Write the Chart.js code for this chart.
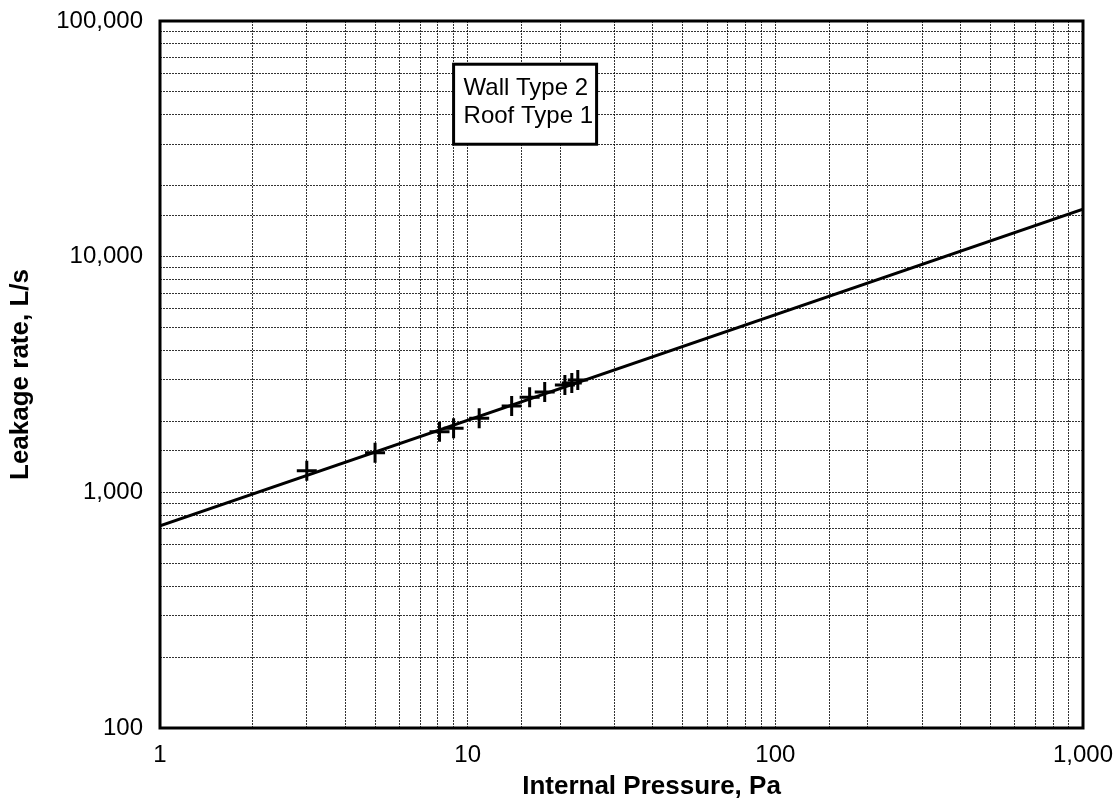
<!DOCTYPE html>
<html>
<head>
<meta charset="utf-8">
<script src="https://cdn.jsdelivr.net/npm/chart.js@4"></script>
<style>
  html, body { margin: 0; padding: 0; background: #fff; }
  #wrap { width: 1120px; height: 803px; }
</style>
</head>
<body>
<div id="wrap"><canvas id="myChart" width="1120" height="803"></canvas></div>
<script>
// measured points (internal pressure Pa, leakage L/s)
const pressure = [3.0, 5.0, 8.1, 9.0, 10.9, 13.9, 15.9, 17.8, 20.7, 21.8, 22.8];
const leakage = [1235, 1472, 1808, 1869, 2062, 2323, 2535, 2665, 2851, 2911, 2994];

// fitted power-law line, ends
const fitX = [1, 1000];
const fitY = [720, 15900];

const xTickLabels = { 1: '1', 10: '10', 100: '100', 1000: '1,000' };
const yTickLabels = { 100: '100', 1000: '1,000', 10000: '10,000', 100000: '100,000' };

const noteLines = ['Wall Type 2', 'Roof Type 1'];
const xTitle = 'Internal Pressure, Pa';

Chart.defaults.font.family = "'Liberation Sans', Arial, sans-serif";
Chart.defaults.color = '#000';

const framePlugin = {
    id: 'frame',
    afterDatasetsDraw(chart) {
        const ctx = chart.ctx;
        const a = chart.chartArea;
        const xs = chart.scales.x;
        const ys = chart.scales.y;
        ctx.save();
        // note box
        const left = xs.getPixelForValue(9);
        const bottom = ys.getPixelForValue(30000);
        const w = 143, h = 80;
        ctx.fillStyle = '#fff';
        ctx.fillRect(left, bottom - h, w, h);
        ctx.lineWidth = 3;
        ctx.strokeStyle = '#000';
        ctx.strokeRect(left, bottom - h, w, h);
        ctx.fillStyle = '#000';
        ctx.font = "24px 'Liberation Sans', Arial, sans-serif";
        ctx.textBaseline = 'alphabetic';
        ctx.fillText(noteLines[0], left + 10, bottom - 49);
        ctx.fillText(noteLines[1], left + 10, bottom - 21);
        // plot frame
        ctx.lineWidth = 3;
        ctx.strokeRect(a.left, a.top, a.right - a.left, a.bottom - a.top);
        // x axis title, sits a bit right of centre in the original
        ctx.font = "bold 26px 'Liberation Sans', Arial, sans-serif";
        ctx.textAlign = 'center';
        ctx.fillText(xTitle, (a.left + a.right) / 2 + 30, 794);
        ctx.restore();
    }
};

const ctx = document.getElementById('myChart').getContext('2d');

const pts = pressure.map((p, i) => ({ x: p, y: leakage[i] }));
const fit = fitX.map((p, i) => ({ x: p, y: fitY[i] }));

const myChart = new Chart(ctx, {
    type: 'scatter',
    data: {
        datasets: [{
                label: 'Fit',
                data: fit,
                showLine: true,
                borderColor: '#000',
                borderWidth: 3,
                pointRadius: 0,
                fill: false,
            },
            {
                label: 'Measured',
                data: pts,
                pointStyle: 'cross',
                pointRadius: 10,
                borderColor: '#000',
                borderWidth: 3,
                backgroundColor: '#000',
            },
        ],
    },
    options: {
        responsive: false,
        animation: false,
        devicePixelRatio: 1,
        layout: {
            padding: { top: 21, right: 37, left: 0, bottom: 0 }
        },
        plugins: {
            legend: { display: false },
            tooltip: { enabled: false },
        },
        scales: {
            x: {
                type: 'logarithmic',
                min: 1,
                max: 1000,
                afterFit(scale) {
                    scale.height = 75;
                    scale.paddingLeft = 0;
                    scale.paddingRight = 0;
                },
                grid: {
                    color: 'rgba(0,0,0,0.8)',
                    lineWidth: 1,
                    drawTicks: false,
                },
                border: { display: false, dash: [2, 1] },
                ticks: {
                    autoSkip: false,
                    maxRotation: 0,
                    padding: 13,
                    font: { size: 24 },
                    callback: function(value) {
                        return xTickLabels[value] || '';
                    }
                },
            },
            y: {
                type: 'logarithmic',
                min: 100,
                max: 100000,
                afterFit(scale) {
                    scale.width = 160;
                    scale.paddingTop = 0;
                    scale.paddingBottom = 0;
                },
                grid: {
                    color: 'rgba(0,0,0,0.8)',
                    lineWidth: 1,
                    drawTicks: false,
                },
                border: { display: false, dash: [2, 1] },
                ticks: {
                    autoSkip: false,
                    padding: 17,
                    font: { size: 24 },
                    callback: function(value) {
                        return yTickLabels[value] || '';
                    }
                },
                title: {
                    display: true,
                    text: 'Leakage rate, L/s',
                    font: { size: 26, weight: 'bold' },
                    padding: { top: 5, bottom: 0 },
                }
            }
        }
    },
    plugins: [framePlugin]
});
</script>
</body>
</html>
